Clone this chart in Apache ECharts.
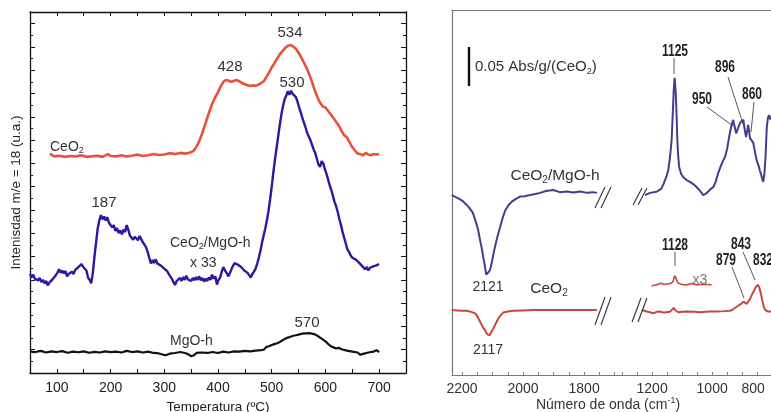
<!DOCTYPE html>
<html><head><meta charset="utf-8">
<script src="https://cdn.jsdelivr.net/npm/echarts@6/dist/echarts.min.js"></script>
<style>html,body{margin:0;padding:0;background:#fff}#c{width:771px;height:412px}</style>
</head><body><div id="c"></div>
<script>
// ---------- DATA (left panel: TPD m/e = 18, [temperature ºC, intensity u.a.]) ----------
const tempTickLabels = [100, 200, 300, 400, 500, 600, 700];
const tpdCeO2 = [[87,9.42],[95,9.30],[105,9.33],[115,9.28],[125,9.32],[135,9.30],[145,9.35],[155,9.28],[165,9.30],[175,9.33],[185,9.28],[195,9.40],[200,9.32],[210,9.30],[220,9.35],[230,9.30],[240,9.33],[250,9.38],[260,9.32],[270,9.35],[280,9.40],[290,9.36],[300,9.38],[310,9.44],[320,9.40],[330,9.45],[340,9.42],[350,9.48],[355,9.55],[360,9.72],[365,9.95],[370,10.25],[375,10.60],[380,10.95],[385,11.30],[390,11.60],[395,11.85],[400,12.05],[405,12.30],[410,12.50],[415,12.58],[420,12.55],[425,12.50],[430,12.55],[435,12.58],[440,12.52],[445,12.45],[450,12.40],[455,12.35],[460,12.32],[465,12.35],[470,12.33],[475,12.38],[480,12.45],[485,12.52],[490,12.70],[495,12.90],[500,13.12],[505,13.30],[510,13.50],[515,13.68],[520,13.82],[525,13.95],[530,14.05],[535,14.08],[540,14.02],[545,13.92],[550,13.75],[555,13.55],[560,13.32],[565,13.10],[570,12.82],[575,12.50],[580,12.15],[585,11.85],[590,11.60],[595,11.45],[600,11.40],[605,11.25],[610,11.10],[615,10.95],[620,10.78],[625,10.62],[630,10.40],[635,10.20],[640,10.12],[645,9.90],[650,9.70],[655,9.55],[660,9.42],[665,9.40],[670,9.35],[675,9.45],[680,9.38],[685,9.35],[690,9.40],[695,9.38],[700,9.40]];
const tpdCeO2MgO = [[50,4.25],[53,4.10],[56,4.22],[59,4.05],[62,4.12],[65,3.98],[68,4.08],[71,3.90],[74,4.00],[77,3.85],[80,3.95],[83,3.76],[86,3.88],[89,3.80],[92,4.02],[95,3.95],[98,4.20],[101,4.30],[104,4.45],[107,4.30],[110,4.40],[113,4.28],[116,4.38],[119,4.15],[122,4.25],[125,4.18],[128,4.35],[131,4.25],[134,4.42],[137,4.38],[140,4.55],[143,4.48],[146,4.68],[149,4.55],[152,4.62],[155,4.40],[158,4.10],[161,4.00],[164,3.85],[167,4.30],[170,5.00],[173,5.60],[176,6.20],[179,6.55],[182,6.78],[185,6.60],[188,6.72],[191,6.55],[194,6.68],[197,6.45],[200,6.50],[203,6.25],[206,6.35],[209,6.10],[212,6.22],[215,6.00],[218,6.12],[221,5.95],[224,6.15],[227,6.05],[230,6.35],[233,6.15],[236,5.90],[239,5.95],[242,5.72],[245,5.85],[248,5.90],[251,5.70],[254,5.88],[257,5.75],[260,5.62],[263,5.55],[266,5.40],[269,5.20],[272,4.95],[275,4.70],[278,4.85],[281,4.72],[284,4.88],[287,4.70],[290,4.78],[293,4.62],[296,4.70],[299,4.50],[302,4.55],[305,4.38],[308,4.30],[311,4.15],[314,4.05],[317,3.90],[320,3.78],[323,3.95],[326,3.88],[329,4.08],[332,3.95],[335,4.12],[338,4.00],[341,4.18],[344,4.02],[347,4.10],[350,3.95],[353,4.08],[356,3.98],[359,4.12],[362,4.00],[365,4.15],[368,3.98],[371,4.08],[374,3.92],[377,4.05],[380,3.95],[383,4.10],[386,4.00],[389,4.22],[392,4.05],[395,4.15],[398,3.80],[401,4.00],[404,4.10],[407,4.35],[410,4.55],[413,4.40],[416,4.30],[419,4.15],[422,4.28],[425,4.45],[428,4.60],[431,4.72],[434,4.80],[437,4.65],[440,4.72],[443,4.55],[446,4.48],[449,4.40],[452,4.45],[455,4.30],[458,4.20],[461,4.10],[464,4.25],[467,4.35],[470,4.48],[473,4.70],[476,4.95],[479,5.25],[482,5.60],[485,5.90],[488,6.20],[491,6.55],[494,6.95],[497,7.45],[500,8.00],[503,8.60],[506,9.15],[509,9.65],[512,10.15],[515,10.65],[518,11.10],[521,11.45],[524,11.75],[527,11.90],[530,12.10],[533,11.95],[536,12.12],[539,11.98],[542,12.05],[545,11.85],[548,11.65],[551,11.40],[554,11.20],[557,10.95],[560,10.75],[563,10.55],[566,10.30],[569,10.15],[572,10.00],[575,9.80],[578,9.60],[581,9.45],[584,9.20],[587,8.95],[590,8.85],[593,9.10],[596,9.00],[599,8.75],[602,8.55],[605,8.30],[608,8.05],[611,7.85],[614,7.60],[617,7.35],[620,7.15],[623,6.90],[626,6.60],[629,6.35],[632,6.05],[635,5.80],[638,5.55],[641,5.30],[644,5.20],[647,5.05],[650,4.95],[653,5.00],[656,4.88],[659,4.95],[662,4.75],[665,4.70],[668,4.60],[671,4.55],[674,4.45],[677,4.55],[680,4.40],[683,4.52],[686,4.45],[689,4.58],[692,4.50],[695,4.62],[698,4.55],[700,4.68]];
const tpdMgO = [[50,0.92],[60,0.90],[70,0.95],[80,0.88],[90,0.93],[100,0.90],[110,0.94],[120,0.87],[130,0.92],[140,0.89],[150,0.93],[160,0.87],[170,0.91],[180,0.88],[190,0.93],[200,0.90],[210,0.92],[220,0.88],[230,0.95],[240,0.90],[250,0.93],[260,0.88],[270,0.92],[280,0.86],[290,0.84],[300,0.77],[305,0.78],[310,0.83],[320,0.86],[330,0.90],[340,0.85],[345,0.80],[350,0.72],[355,0.76],[360,0.86],[370,0.88],[380,0.86],[390,0.90],[400,0.86],[410,0.92],[420,0.88],[430,0.93],[440,0.92],[450,0.95],[460,0.93],[470,0.96],[480,0.98],[485,1.00],[490,1.12],[495,1.15],[500,1.20],[505,1.24],[510,1.28],[515,1.33],[520,1.40],[525,1.47],[530,1.52],[535,1.56],[540,1.60],[545,1.62],[550,1.65],[555,1.68],[560,1.70],[565,1.70],[570,1.71],[575,1.69],[580,1.66],[585,1.60],[590,1.52],[595,1.44],[600,1.36],[605,1.25],[610,1.15],[615,1.10],[620,1.05],[625,1.08],[630,1.02],[640,0.96],[650,0.92],[660,0.88],[665,0.78],[670,0.82],[680,0.88],[690,0.92],[695,0.98],[700,0.90]];

// ---------- DATA (right panel: IR, [wavenumber cm-1, absorbance a.u.]) ----------
const waveTickLabelsHigh = [2200, 2000, 1800];
const waveTickLabelsLow = [1200, 1000, 800];
const irCeMgoHigh = [[2234,49.3],[2222,48.8],[2212,48.4],[2200,47.8],[2190,47.0],[2180,46.2],[2174,45.7],[2165,44.5],[2157,42.5],[2148,40.0],[2141,37.0],[2135,34.5],[2130,32.0],[2125,29.8],[2121,27.5],[2116,27.6],[2110,28.5],[2106,29.5],[2099,32.3],[2092,35.2],[2083,38.2],[2075,40.6],[2067,43.0],[2059,45.0],[2048,46.5],[2037,47.5],[2025,48.2],[2010,48.9],[1995,49.0],[1977,49.3],[1960,49.6],[1944,49.9],[1925,50.4],[1901,50.7],[1880,50.1],[1857,50.3],[1835,50.0],[1813,50.3],[1790,49.9],[1770,50.1],[1758,49.9]];
const irCeMgoLow = [[1224,49.3],[1207,49.9],[1185,50.2],[1170,51.0],[1163,52.1],[1152,54.5],[1146,56.2],[1140,60.0],[1135,64.4],[1131,72.0],[1128,78.0],[1125,81.4],[1121,77.0],[1118,70.0],[1116,64.4],[1113,60.0],[1110,57.0],[1103,55.0],[1096,54.2],[1085,53.4],[1074,52.9],[1063,52.3],[1052,51.5],[1041,50.5],[1030,49.3],[1022,49.6],[1013,50.3],[1004,51.0],[996,51.5],[988,53.0],[980,55.3],[970,57.5],[962,59.0],[957,59.7],[950,62.0],[941,66.3],[935,68.5],[930,69.9],[925,68.0],[920,66.2],[916,66.6],[910,68.5],[905,69.3],[900,69.5],[896,69.9],[891,67.0],[887,65.2],[884,66.5],[880,68.5],[877,67.0],[874,64.9],[868,64.2],[863,63.6],[857,61.0],[852,58.9],[846,57.5],[841,56.0],[837,55.0],[834,54.0],[830,52.9],[826,55.0],[822,60.0],[818,67.9],[814,70.5],[810,71.2],[806,70.0],[804,70.7],[800,70.5],[790,70.0]];
const irCeHigh = [[2234,17.8],[2215,17.7],[2200,17.6],[2185,17.6],[2170,17.3],[2157,16.9],[2148,15.8],[2141,14.6],[2133,13.3],[2125,12.3],[2118,11.2],[2114,10.7],[2110,10.9],[2104,11.8],[2097,12.8],[2089,14.2],[2081,15.5],[2073,16.4],[2065,17.1],[2050,17.4],[2032,17.6],[2000,17.7],[1966,17.8],[1930,17.8],[1900,17.8],[1857,17.8],[1820,17.8],[1790,17.8],[1758,17.8]];
const irCeLow = [[1235,17.8],[1226,17.6],[1218,17.4],[1208,17.2],[1196,16.9],[1185,17.3],[1174,17.4],[1163,17.1],[1152,17.2],[1141,17.3],[1135,17.6],[1128,18.4],[1124,17.8],[1118,17.3],[1113,17.2],[1100,17.3],[1085,17.4],[1060,17.3],[1041,17.2],[1010,17.4],[985,17.4],[960,17.5],[941,17.6],[930,18.0],[918,18.7],[905,19.4],[896,20.1],[890,20.0],[885,19.5],[880,19.8],[874,20.8],[868,21.9],[861,23.0],[854,24.2],[850,24.6],[847,24.7],[843,24.0],[838,22.5],[833,20.5],[827,18.4],[820,17.6],[813,17.4],[800,17.4],[790,17.4]];
const irCeLowX3 = [[1202,24.4],[1193,24.6],[1185,24.7],[1176,25.0],[1168,25.1],[1160,24.8],[1157,24.7],[1150,25.0],[1146,25.3],[1140,25.0],[1135,25.1],[1130,25.6],[1127,26.0],[1125,27.2],[1123,27.7],[1121,26.6],[1118,26.0],[1114,25.2],[1110,24.9],[1100,24.8],[1085,24.7],[1075,24.9],[1068,25.1],[1060,24.9],[1052,24.7],[1040,24.8],[1030,24.9],[1015,24.8],[1002,24.7]];

// ---------- CHART ----------
const FONT = "'Liberation Sans', Arial, Helvetica, sans-serif";
const chart = echarts.init(document.getElementById('c'), null, {renderer: 'canvas'});

function txt(x, y, text, o, scaleX) {
  return {type: 'text', x, y, silent: true, z: 50, scaleX: scaleX || 1,
    style: Object.assign({text, fontSize: 15, fontFamily: FONT, fill: '#333', align: 'center', verticalAlign: 'middle'}, o || {})};
}
function bold(x, y, text, o) {
  return txt(x, y, text, Object.assign({fontSize: 16, fontWeight: 'bold', fill: '#222'}, o || {}), 0.75);
}
function ceo(prefix, suffix, x, y, size, align, fill) {
  const n = {fontSize: size, fontFamily: FONT, fill};
  const s = {fontSize: Math.round(size * 0.62), fontFamily: FONT, fill, padding: [Math.round(size * 0.6), 0, 0, 0]};
  let t = '{n|' + prefix + '}{s|2}';
  if (suffix) t += '{n|' + suffix + '}';
  return {type: 'text', x, y, silent: true, z: 50, style: {text: t, rich: {n, s}, align, verticalAlign: 'middle'}};
}
function seg(x1, y1, x2, y2, color, w) {
  return {type: 'line', silent: true, z: 50, shape: {x1, y1, x2, y2}, style: {stroke: color || '#444', lineWidth: w || 0.9}};
}

const leftAxisLine = {show: true, onZero: false, lineStyle: {color: '#111', width: 1.3}};
const rightAxisLine = {show: true, onZero: false, lineStyle: {color: '#777', width: 1.2}};

function line(data, color, width, xi, yi) {
  return {type: 'line', data, xAxisIndex: xi, yAxisIndex: yi, showSymbol: false, symbol: 'none',
    lineStyle: {color, width}, silent: true, animation: false};
}

const option = {
  animation: false,
  backgroundColor: '#fff',
  grid: [
    {left: 30, top: 12, width: 376, height: 361, outerBoundsMode: 'none'},
    {left: 452, top: 10, width: 162.6, height: 365, outerBoundsMode: 'none'},
    {left: 614.6, top: 10, width: 217.6, height: 365, outerBoundsMode: 'none'}
  ],
  xAxis: [
    {gridIndex: 0, type: 'value', min: 50, max: 750, interval: 50, position: 'bottom',
      axisLine: leftAxisLine, axisTick: {inside: true, length: 4, lineStyle: {color: '#111'}},
      axisLabel: {margin: 8, fontSize: 14, color: '#222', fontFamily: FONT,
        formatter: v => tempTickLabels.includes(v) ? String(v) : ''},
      splitLine: {show: false},
      name: 'Temperatura (ºC)', nameLocation: 'middle', nameGap: 26,
      nameTextStyle: {fontSize: 13.5, color: '#222', fontFamily: FONT}},
    {gridIndex: 0, type: 'value', min: 50, max: 750, interval: 50, position: 'top',
      axisLine: leftAxisLine, axisTick: {inside: true, length: 4, lineStyle: {color: '#111'}},
      axisLabel: {show: false}, splitLine: {show: false}},
    {gridIndex: 1, type: 'value', inverse: true, min: 1700, max: 2233, interval: 100, position: 'bottom',
      axisLine: rightAxisLine, axisTick: {inside: true, length: 3, lineStyle: {color: '#888'}},
      minorTick: {show: true, splitNumber: 2, length: 3, lineStyle: {color: '#888'}},
      axisLabel: {margin: 7, fontSize: 14, color: '#333', fontFamily: FONT,
        formatter: v => waveTickLabelsHigh.includes(v) ? String(v) : ''},
      splitLine: {show: false}, minorSplitLine: {show: false}},
    {gridIndex: 1, type: 'value', inverse: true, min: 1700, max: 2233, position: 'top',
      axisLine: rightAxisLine, axisTick: {show: false}, axisLabel: {show: false}, splitLine: {show: false}},
    {gridIndex: 2, type: 'value', inverse: true, min: 600, max: 1325, interval: 200, position: 'bottom',
      axisLine: rightAxisLine, axisTick: {inside: true, length: 3, lineStyle: {color: '#888'}},
      minorTick: {show: true, splitNumber: 4, length: 3, lineStyle: {color: '#888'}},
      axisLabel: {margin: 7, fontSize: 14, color: '#333', fontFamily: FONT,
        rich: {r: {fontSize: 14, color: '#333', fontFamily: FONT, padding: [0, 38, 0, 0]}},
        formatter: v => !waveTickLabelsLow.includes(v) ? '' : (v === 800 ? '{r|800}' : String(v))},
      splitLine: {show: false}, minorSplitLine: {show: false}},
    {gridIndex: 2, type: 'value', inverse: true, min: 600, max: 1325, position: 'top',
      axisLine: rightAxisLine, axisTick: {show: false}, axisLabel: {show: false}, splitLine: {show: false}}
  ],
  yAxis: [
    {gridIndex: 0, type: 'value', min: 0, max: 15.5, interval: 1, position: 'left',
      axisLine: leftAxisLine, axisTick: {inside: true, length: 5, lineStyle: {color: '#111'}},
      minorTick: {show: true, splitNumber: 2, length: 3, lineStyle: {color: '#111'}},
      axisLabel: {show: false}, splitLine: {show: false}, minorSplitLine: {show: false},
      name: 'Intenisdad m/e = 18 (u.a.)', nameLocation: 'middle', nameGap: 7, nameRotate: 90,
      nameTextStyle: {fontSize: 13.5, color: '#222', fontFamily: FONT}},
    {gridIndex: 0, type: 'value', min: 0, max: 15.5, interval: 1, position: 'right',
      axisLine: leftAxisLine, axisTick: {inside: true, length: 5, lineStyle: {color: '#111'}},
      minorTick: {show: true, splitNumber: 2, length: 3, lineStyle: {color: '#111'}},
      axisLabel: {show: false}, splitLine: {show: false}, minorSplitLine: {show: false}},
    {gridIndex: 1, type: 'value', min: 0, max: 100, position: 'left',
      axisLine: rightAxisLine, axisTick: {show: false}, axisLabel: {show: false}, splitLine: {show: false}},
    {gridIndex: 2, type: 'value', min: 0, max: 100, show: false}
  ],
  series: [
    line(tpdCeO2, '#e8513b', 2.6, 0, 0),
    line(tpdCeO2MgO, '#2a1aa0', 2.4, 0, 0),
    line(tpdMgO, '#111111', 2.2, 0, 0),
    line(irCeMgoHigh, '#4a3a8c', 2.0, 2, 2),
    line(irCeHigh, '#c9463d', 2.0, 2, 2),
    line(irCeMgoLow, '#4a3a8c', 2.0, 4, 3),
    line(irCeLow, '#c9463d', 2.0, 4, 3),
    line(irCeLowX3, '#c9463d', 1.6, 4, 3)
  ],
  graphic: [
    // left panel annotations
    txt(290, 33, '534'), txt(230, 67, '428'), txt(292, 83, '530'),
    ceo('CeO', '', 50, 147, 14, 'left', '#333'),
    txt(104, 203, '187'),
    ceo('CeO', '/MgO-h', 170, 243, 14, 'left', '#333'),
    txt(190, 263, 'x 33', {fontSize: 14, align: 'left'}),
    txt(307, 323, '570'),
    txt(170, 341, 'MgO-h', {fontSize: 14, align: 'left'}),
    // right panel annotations
    seg(469, 47, 469, 86, '#111', 2.4),
    ceo('0.05 Abs/g/(CeO', ')', 475, 67, 15, 'left', '#333'),
    bold(675, 52, '1125'), bold(725, 68, '896'), bold(702, 100, '950'), bold(752, 95, '860'),
    seg(674, 58, 674, 74), seg(728, 77, 744, 127), seg(707, 107, 733, 126), seg(754, 102, 751, 132),
    ceo('CeO', '/MgO-h', 555, 176, 15.5, 'center', '#333'),
    txt(488, 287, '2121', {fontSize: 14}),
    ceo('CeO', '', 549, 289, 15.5, 'center', '#333'),
    txt(488, 350, '2117', {fontSize: 14}),
    bold(675, 246, '1128'), bold(741, 245, '843'), bold(726, 261, '879'), bold(753, 261, '832', {align: 'left'}),
    seg(675, 252, 675, 266), seg(732, 267, 744, 298), seg(743, 252, 755, 280),
    txt(700, 280, 'x3', {fontSize: 14, fill: '#777'}),
    // axis break marks
    seg(595, 208, 605, 187, '#333', 1.1), seg(601, 208, 611, 187, '#333', 1.1),
    seg(633, 205, 642, 188, '#333', 1.1), seg(638, 205, 647, 188, '#333', 1.1),
    seg(595, 325, 605, 297, '#333', 1.1), seg(601, 325, 611, 297, '#333', 1.1),
    seg(632, 322, 641, 298, '#333', 1.1), seg(638, 322, 647, 298, '#333', 1.1),
    // right panel axis title
    {type: 'text', x: 608, y: 405, silent: true, z: 50,
      style: {text: '{n|Número de onda (cm}{s|-1}{n|)}', align: 'center', verticalAlign: 'middle',
        rich: {n: {fontSize: 14, fontFamily: FONT, fill: '#333'},
               s: {fontSize: 9, fontFamily: FONT, fill: '#333', padding: [0, 0, 9, 0]}}}}
  ]
};
chart.setOption(option);
</script>
</body></html>
